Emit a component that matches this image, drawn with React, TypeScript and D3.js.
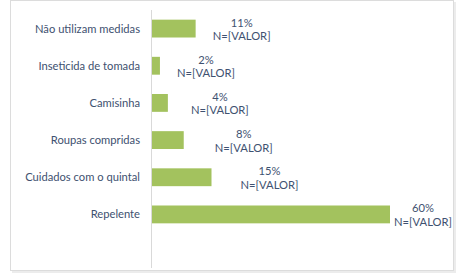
import React from "react";
import * as d3 from "d3";

const categories = [
  "Não utilizam medidas",
  "Inseticida de tomada",
  "Camisinha",
  "Roupas compridas",
  "Cuidados com o quintal",
  "Repelente",
];
const values = [11, 2, 4, 8, 15, 60];
const countLabels = ["N=[VALOR]", "N=[VALOR]", "N=[VALOR]", "N=[VALOR]", "N=[VALOR]", "N=[VALOR]"];

// layout: manual label displacement from bar end (as placed in the original)
const labelDx = [46, 46, 52, 60, 58, 33];

const W = 466;
const H = 275;
const FONT = "Lato, 'Open Sans', sans-serif";
const TEXT = "#3E5170";
const BAR = "#A3C25E";
const FS = 11.2;

export default function App() {
  const x = d3.scaleLinear().domain([0, 60]).range([152, 390]);
  const y = d3
    .scaleBand<string>()
    .domain(categories)
    .range([10, 233])
    .paddingInner(0.52)
    .paddingOuter(0.26);

  return (
    <svg
      width={W}
      height={H}
      style={{ position: "absolute", left: 0, top: 0, background: "#fff" }}
      fontFamily={FONT}
    >
      <rect x={12} y={2} width={444} height={271} fill="#ececec" />
      <rect x={10.5} y={0.5} width={443} height={270} fill="#fff" stroke="#dcdcdc" />
      <line x1={151.5} x2={151.5} y1={10} y2={268} stroke="#d9d9d9" />
      {categories.map((c, i) => {
        const yc = (y(c) as number) + y.bandwidth() / 2;
        const xe = x(values[i]);
        const lx = xe + labelDx[i];
        return (
          <g key={c}>
            <text x={140} y={yc} dy="0.35em" textAnchor="end" fontSize={FS} fill={TEXT}>
              {c}
            </text>
            <rect x={x(0)} y={y(c)} width={xe - x(0)} height={y.bandwidth()} fill={BAR} />
            <text x={lx} y={yc - 6} dy="0.35em" textAnchor="middle" fontSize={FS} fill={TEXT}>
              {values[i]}%
            </text>
            <text x={lx} y={yc + 7.5} dy="0.35em" textAnchor="middle" fontSize={FS} fill={TEXT}>
              {countLabels[i]}
            </text>
          </g>
        );
      })}
    </svg>
  );
}
